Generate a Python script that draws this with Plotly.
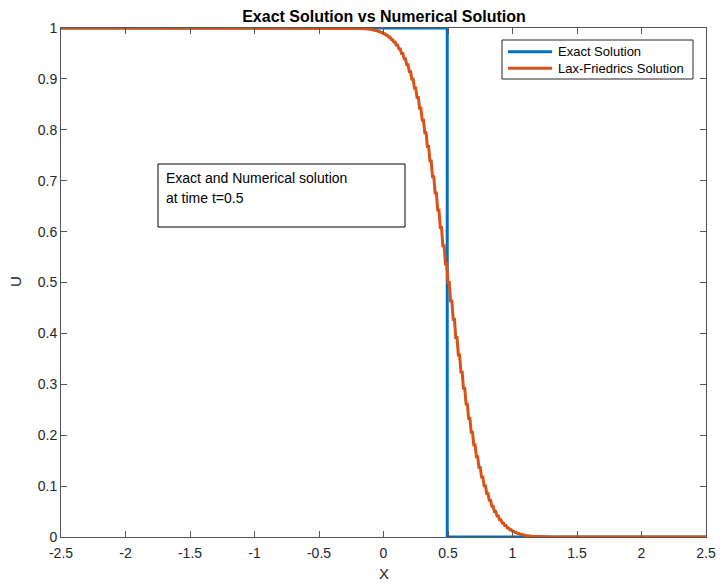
import plotly.graph_objects as go

# ---------------- data ----------------
# Exact solution (step)
x_exact = [-2.5, 0.494, 0.494, 2.5]
u_exact = [1, 1, 0, 0]

# Lax-Friedrichs numerical solution
# far-field points
lf_left_x = [-2.5, -0.30, -0.20]
lf_left_u = [1.0, 0.9999, 0.9990]
# odd/even pairs on the grid (each value holds on two neighbouring nodes)
lf_pair_x = [-0.14, -0.12, -0.10, -0.08, -0.06, -0.04, -0.02, 0.00, 0.02, 0.04,
             0.06, 0.08, 0.10, 0.12, 0.14, 0.16, 0.18, 0.20, 0.22, 0.24,
             0.26, 0.28, 0.30, 0.32, 0.34, 0.36, 0.38, 0.40, 0.42, 0.44,
             0.46, 0.48, 0.50, 0.52, 0.54, 0.56, 0.58, 0.60, 0.62, 0.64,
             0.66, 0.68, 0.70, 0.72, 0.74, 0.76, 0.78, 0.80, 0.82, 0.84,
             0.86, 0.88, 0.90, 0.92, 0.94, 0.96, 0.98, 1.00, 1.02, 1.04,
             1.06, 1.08, 1.10, 1.12, 1.14]
lf_pair_u = [0.9983, 0.9977, 0.9969, 0.9959, 0.9947, 0.9931, 0.9912, 0.9887, 0.9857, 0.9821,
             0.9776, 0.9723, 0.9660, 0.9585, 0.9497, 0.9395, 0.9279, 0.9145, 0.8992, 0.8822,
             0.8633, 0.8423, 0.8191, 0.7942, 0.7673, 0.7386, 0.7078, 0.6758, 0.6424, 0.6080,
             0.5722, 0.5363, 0.5000, 0.4637, 0.4278, 0.3920, 0.3576, 0.3242, 0.2922, 0.2614,
             0.2327, 0.2058, 0.1809, 0.1577, 0.1367, 0.1178, 0.1008, 0.0855, 0.0721, 0.0605,
             0.0503, 0.0415, 0.0340, 0.0277, 0.0224, 0.0179, 0.0143, 0.0113, 0.0088, 0.0069,
             0.0053, 0.0041, 0.0031, 0.0023, 0.0017]
lf_dx = 0.01
lf_right_x = [1.20, 1.30, 2.5]
lf_right_u = [0.0010, 0.0001, 0.0]

xtick_vals = [-2.5, -2, -1.5, -1, -0.5, 0, 0.5, 1, 1.5, 2, 2.5]
xtick_text = ["-2.5", "-2", "-1.5", "-1", "-0.5", "0", "0.5", "1", "1.5", "2", "2.5"]
ytick_vals = [0, 0.1, 0.2, 0.3, 0.4, 0.5, 0.6, 0.7, 0.8, 0.9, 1]
ytick_text = ["0", "0.1", "0.2", "0.3", "0.4", "0.5", "0.6", "0.7", "0.8", "0.9", "1"]

series_names = ["Exact Solution", "Lax-Friedrics Solution"]
series_colors = ["#0072BD", "#D95319"]

# build full LF polyline
x_lf = list(lf_left_x)
u_lf = list(lf_left_u)
for xp, up in zip(lf_pair_x, lf_pair_u):
    x_lf += [xp, round(xp + lf_dx, 4)]
    u_lf += [up, up]
x_lf += lf_right_x
u_lf += lf_right_u

# ---------------- figure ----------------
FONT = "Liberation Sans, Arial, sans-serif"
TXT = "#262626"
AXL = "#555555"

W, H = 721, 588
ML, MR, MT, MB = 61, 15, 28, 51
PW, PH = W - ML - MR, H - MT - MB


def px(xp):
    return (xp - ML) / PW


def py(yp):
    return (H - MB - yp) / PH


fig = go.Figure()
fig.add_trace(go.Scatter(x=x_exact, y=u_exact, mode="lines", name=series_names[0],
                         line=dict(color=series_colors[0], width=3), showlegend=False))
fig.add_trace(go.Scatter(x=x_lf, y=u_lf, mode="lines", name=series_names[1],
                         line=dict(color=series_colors[1], width=3), showlegend=False))

axis_common = dict(showgrid=False, zeroline=False, showline=True, linecolor=AXL, linewidth=1,
                   mirror="ticks", ticks="inside", ticklen=6, tickcolor=AXL,
                   automargin=False,
                   tickfont=dict(family=FONT, size=14, color=TXT))

fig.update_layout(
    width=W, height=H,
    margin=dict(l=ML, r=MR, t=MT, b=MB),
    paper_bgcolor="white", plot_bgcolor="white",
    font=dict(family=FONT, size=13, color=TXT),
    title=dict(text="<b>Exact Solution vs Numerical Solution</b>", x=px(384), xanchor="center",
               xref="paper", y=1 - 16 / H, yanchor="middle",
               font=dict(family=FONT, size=16, color="black")),
    xaxis=dict(range=[-2.5, 2.5], tickvals=xtick_vals, ticktext=xtick_text,
               ticklabelstandoff=3, **axis_common),
    yaxis=dict(range=[0, 1], tickvals=ytick_vals, ticktext=ytick_text,
               **axis_common),
    showlegend=False,
)

# axis titles
fig.add_annotation(xref="paper", yref="paper", x=px(384), y=py(573), text="X",
                   showarrow=False, xanchor="center", yanchor="middle",
                   font=dict(family=FONT, size=15, color=TXT))
fig.add_annotation(xref="paper", yref="paper", x=px(15), y=py(282), text="U", textangle=-90,
                   showarrow=False, xanchor="center", yanchor="middle",
                   font=dict(family=FONT, size=15, color=TXT))

# legend box (drawn manually to match proportions)
fig.add_shape(type="rect", xref="paper", yref="paper", x0=px(502), x1=px(693), y0=py(79), y1=py(40),
              line=dict(color=TXT, width=1), fillcolor="white", layer="above")
for i, (nm, col) in enumerate(zip(series_names, series_colors)):
    yy = [51.7, 68.3][i]
    fig.add_shape(type="line", xref="paper", yref="paper", x0=px(508), x1=px(552),
                  y0=py(yy), y1=py(yy), line=dict(color=col, width=3), layer="above")
    fig.add_annotation(xref="paper", yref="paper", x=px(556), y=py(yy), text=nm,
                       showarrow=False, xanchor="left", yanchor="middle",
                       font=dict(family=FONT, size=13, color="black"))

# annotation box
fig.add_shape(type="rect", xref="paper", yref="paper", x0=px(158), x1=px(405), y0=py(227), y1=py(164),
              line=dict(color="black", width=1), fillcolor="white", layer="above")
fig.add_annotation(xref="paper", yref="paper", x=px(164), y=py(178), text="Exact and Numerical solution",
                   showarrow=False, xanchor="left", yanchor="middle",
                   font=dict(family=FONT, size=14, color="black"))
fig.add_annotation(xref="paper", yref="paper", x=px(164), y=py(198), text="at time t=0.5",
                   showarrow=False, xanchor="left", yanchor="middle",
                   font=dict(family=FONT, size=14, color="black"))

fig.write_html("out.html")
